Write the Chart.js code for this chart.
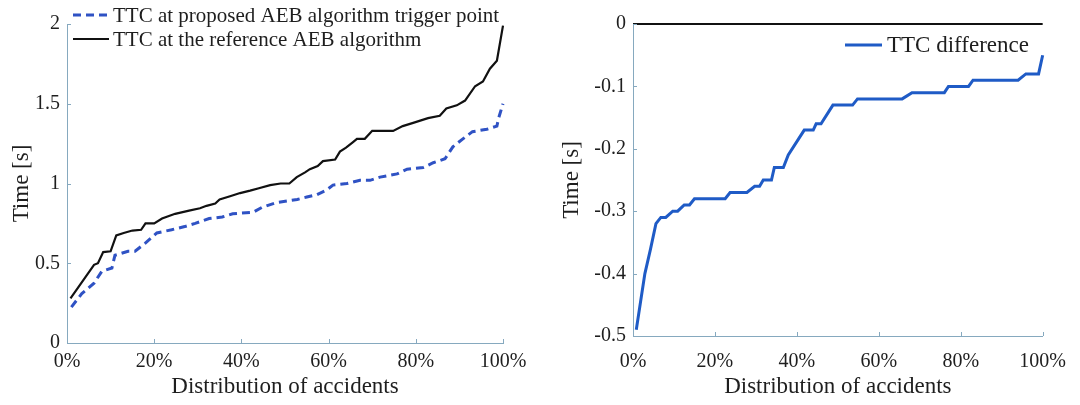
<!DOCTYPE html>
<html><head><meta charset="utf-8">
<script src="https://cdn.jsdelivr.net/npm/chart.js@4.4.0/dist/chart.umd.min.js"></script>
<style>
html,body{margin:0;padding:0;background:#fff;}
#wrap{position:relative;width:1080px;height:405px;overflow:hidden;}
.c{position:absolute;top:0;width:540px;height:405px;}
canvas{display:block;}
</style></head><body>
<div id="wrap">
<div class="c" style="left:0"><canvas id="left" width="540" height="405"></canvas></div>
<div class="c" style="left:540px"><canvas id="right" width="540" height="405"></canvas></div>
</div>
<script>
// ---- data ----
const xTickLabels = [0, 20, 40, 60, 80, 100];
const leftYTicks = [0, 0.5, 1, 1.5, 2];
const rightYTicks = [-0.5, -0.4, -0.3, -0.2, -0.1, 0];

const proposedLabel = 'TTC at proposed AEB algorithm trigger point';
const proposedX = [1,3.4,6.2,8,10.3,11,14,15.6,17.9,20.6,24,27,29.4,32.6,35.6,38,42.7,44.7,48,52.8,55,57.3,59.6,61,64.2,67.2,69.5,71.8,75.7,78,81.7,84,86.7,88.5,90.8,93,96.3,98.6,99,100];
const proposedY = [0.225,0.31,0.375,0.45,0.47,0.55,0.575,0.575,0.625,0.69,0.71,0.73,0.75,0.78,0.79,0.81,0.82,0.85,0.88,0.9,0.915,0.93,0.96,0.99,1.0,1.02,1.02,1.04,1.06,1.09,1.10,1.13,1.155,1.23,1.28,1.325,1.34,1.36,1.41,1.5];

const referenceLabel = 'TTC at the reference AEB algorithm';
const referenceX = [0.8,6.2,7.1,8.3,10,11.3,13,15,17,18,20,21.8,24.8,28,30.5,32,34,35,37.4,39.7,42,44,46.6,49,51,52.7,54.6,55.7,57.5,58.7,61.5,62.6,64,65.6,66.5,68.3,70,74.8,77,79.4,82.8,85.5,87,89.4,91.3,93.6,95.4,97,98.6,100];
const referenceY = [0.28,0.49,0.50,0.57,0.575,0.675,0.69,0.705,0.71,0.75,0.75,0.78,0.81,0.83,0.845,0.86,0.875,0.9,0.92,0.94,0.955,0.97,0.99,1.0,1.0,1.04,1.07,1.09,1.11,1.14,1.15,1.2,1.225,1.26,1.28,1.28,1.33,1.33,1.36,1.38,1.41,1.425,1.47,1.49,1.52,1.61,1.64,1.72,1.77,1.99];

const diffLabel = 'TTC difference';
const diffX = [0.8,2.9,4.3,5.6,6.8,8,9.7,10.9,12.5,13.8,15,22.5,23.7,27.8,29.7,30.9,31.8,33.8,34.5,36.7,37.9,41.8,44,44.7,45.9,48.8,53.6,54.8,65.7,68.1,76,77,81.9,83,94,95.9,99,100];
const diffY = [-0.49,-0.40,-0.36,-0.32,-0.31,-0.31,-0.30,-0.30,-0.29,-0.29,-0.28,-0.28,-0.27,-0.27,-0.26,-0.26,-0.25,-0.25,-0.23,-0.23,-0.21,-0.17,-0.17,-0.16,-0.16,-0.13,-0.13,-0.12,-0.12,-0.11,-0.11,-0.10,-0.10,-0.09,-0.09,-0.08,-0.08,-0.05];

const zeroX = [0, 100];
const zeroY = [0, 0];

// ---- styling ----
const FONT = '"Liberation Serif","Times New Roman",serif';
const axisColor = '#86a9bf';
const textColor = '#1e1e1e';
const pts = (xs, ys) => xs.map((x, i) => ({x: x, y: ys[i]}));

const inwardTicks = {
  id: 'inwardTicks',
  afterDraw(chart) {
    const {ctx, chartArea: a, scales} = chart;
    ctx.save();
    ctx.strokeStyle = axisColor;
    ctx.lineWidth = 1;
    scales.x.ticks.forEach(t => {
      const px = Math.round(scales.x.getPixelForValue(t.value)) + 0.5;
      ctx.beginPath(); ctx.moveTo(px, a.bottom); ctx.lineTo(px, a.bottom - 4); ctx.stroke();
    });
    scales.y.ticks.forEach(t => {
      const py = Math.round(scales.y.getPixelForValue(t.value)) + 0.5;
      ctx.beginPath(); ctx.moveTo(a.left, py); ctx.lineTo(a.left + 4, py); ctx.stroke();
    });
    ctx.restore();
  }
};

const manualLegend = {
  id: 'manualLegend',
  afterDraw(chart, args, o) {
    const ctx = chart.ctx;
    ctx.save();
    ctx.font = o.fontSize + 'px ' + FONT;
    ctx.textBaseline = 'middle';
    ctx.textAlign = 'left';
    const items = chart.data.datasets.filter(d => d.label);
    items.forEach((ds, i) => {
      const y = o.y + i * o.row;
      ctx.strokeStyle = ds.borderColor;
      ctx.lineWidth = ds.borderWidth;
      ctx.setLineDash(ds.borderDash || []);
      ctx.beginPath(); ctx.moveTo(o.x, y); ctx.lineTo(o.x + o.len, y); ctx.stroke();
      ctx.setLineDash([]);
      ctx.fillStyle = textColor;
      ctx.fillText(ds.label, o.x + o.len + o.gap, y + 1);
    });
    ctx.restore();
  }
};

function axes(opts) {
  return {
    x: {
      type: 'linear', min: 0, max: 100,
      afterBuildTicks: ax => { ax.ticks = xTickLabels.map(v => ({value: v})); },
      afterFit: s => { s.height = opts.xh; },
      ticks: { callback: v => v + '%', font: {family: FONT, size: 20}, color: textColor, padding: opts.xpad, maxRotation: 0, autoSkip: false },
      grid: { display: false, drawTicks: false },
      border: { display: true, color: axisColor, width: 1 },
      title: { display: true, text: 'Distribution of accidents', font: {family: FONT, size: 23}, color: textColor, padding: {top: 0, bottom: opts.xtpad} }
    },
    y: {
      type: 'linear', min: opts.ymin, max: opts.ymax,
      afterBuildTicks: ax => { ax.ticks = opts.yticks.map(v => ({value: v})); },
      afterFit: s => { s.width = opts.yw; },
      ticks: { callback: v => String(Math.round(v * 10) / 10), font: {family: FONT, size: 20}, color: textColor, padding: 7 },
      grid: { display: false, drawTicks: false },
      border: { display: true, color: axisColor, width: 1 },
      title: { display: true, text: 'Time [s]', font: {family: FONT, size: 23}, color: textColor, padding: {top: opts.ytpad, bottom: 0} }
    }
  };
}

new Chart(document.getElementById('left'), {
  type: 'line',
  data: {
    datasets: [
      { label: proposedLabel, data: pts(proposedX, proposedY), borderColor: '#2f52c4', borderWidth: 3, borderDash: [8, 5], pointRadius: 0, tension: 0, clip: false },
      { label: referenceLabel, data: pts(referenceX, referenceY), borderColor: '#111111', borderWidth: 2.2, pointRadius: 0, tension: 0, clip: false }
    ]
  },
  options: {
    responsive: false, animation: false, devicePixelRatio: 1,
    layout: { padding: {top: 24, right: 37, left: 0, bottom: 0} },
    plugins: { legend: {display: false}, tooltip: {enabled: false},
      manualLegend: { x: 73, y: 15, row: 24, len: 36, gap: 4, fontSize: 21 } },
    scales: axes({ xh: 62, yw: 67, xpad: 7, xtpad: 4, ytpad: 8, ymin: 0, ymax: 2, yticks: leftYTicks })
  },
  plugins: [inwardTicks, manualLegend]
});

new Chart(document.getElementById('right'), {
  type: 'line',
  data: {
    datasets: [
      { label: diffLabel, data: pts(diffX, diffY), borderColor: '#1f5bc6', borderWidth: 3, pointRadius: 0, tension: 0, clip: false },
      { label: '', data: pts(zeroX, zeroY), borderColor: '#111111', borderWidth: 2, pointRadius: 0, tension: 0, clip: false }
    ]
  },
  options: {
    responsive: false, animation: false, devicePixelRatio: 1,
    layout: { padding: {top: 24, right: 33, left: 0, bottom: 0} },
    plugins: { legend: {display: false}, tooltip: {enabled: false},
      manualLegend: { x: 305, y: 45, row: 24, len: 37, gap: 5, fontSize: 23 } },
    scales: axes({ xh: 69, yw: 93, xpad: 14, xtpad: 4, ytpad: 18, ymin: -0.5, ymax: 0, yticks: rightYTicks })
  },
  plugins: [inwardTicks, manualLegend]
});
</script>
</body></html>
